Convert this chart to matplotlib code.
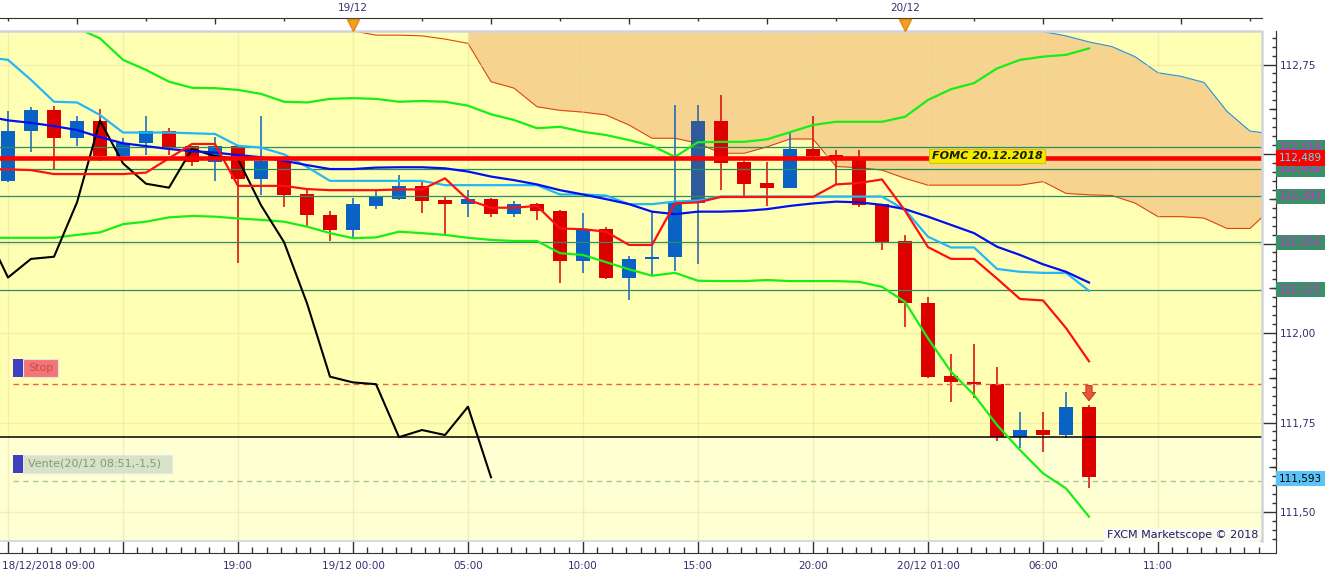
import matplotlib
matplotlib.use("Agg")
import matplotlib.pyplot as plt
import matplotlib.transforms as mtransforms
from matplotlib.patches import Rectangle
from matplotlib.ticker import FixedLocator, MultipleLocator, FuncFormatter, NullFormatter
import numpy as np

plt.rcParams['font.family'] = ['DejaVu Sans']

W, H = 1334, 579

# hourly candles, hour 0 = 18/12/2018 09:00
opens = [112.424, 112.563, 112.624, 112.544, 112.593, 112.494, 112.531, 112.565, 112.521, 112.478,
         112.523, 112.430, 112.480, 112.388, 112.331, 112.289, 112.356, 112.375, 112.412, 112.371,
         112.359, 112.375, 112.333, 112.359, 112.342, 112.200, 112.291, 112.155, 112.206, 112.211,
         112.362, 112.593, 112.477, 112.420, 112.406, 112.514, 112.498, 112.492, 112.359, 112.256,
         112.084, 111.880, 111.863, 111.857, 111.709, 111.729, 111.715, 111.794]
highs = [112.619, 112.631, 112.633, 112.605, 112.627, 112.545, 112.607, 112.573, 112.523, 112.547,
         112.525, 112.605, 112.484, 112.399, 112.342, 112.377, 112.400, 112.442, 112.424, 112.384,
         112.399, 112.377, 112.370, 112.363, 112.344, 112.335, 112.295, 112.216, 112.337, 112.638,
         112.638, 112.666, 112.480, 112.477, 112.561, 112.605, 112.510, 112.512, 112.361, 112.275,
         112.100, 111.941, 111.969, 111.906, 111.780, 111.780, 111.836, 111.799]
lows = [112.422, 112.505, 112.458, 112.521, 112.480, 112.492, 112.496, 112.498, 112.466, 112.424,
        112.195, 112.386, 112.351, 112.300, 112.258, 112.265, 112.345, 112.372, 112.335, 112.277,
        112.323, 112.323, 112.323, 112.317, 112.140, 112.169, 112.152, 112.093, 112.163, 112.172,
        112.193, 112.400, 112.377, 112.356, 112.404, 112.484, 112.416, 112.351, 112.233, 112.018,
        111.874, 111.808, 111.818, 111.699, 111.678, 111.669, 111.706, 111.566]
closes = [112.565, 112.624, 112.544, 112.593, 112.494, 112.531, 112.565, 112.519, 112.478, 112.523,
          112.430, 112.480, 112.386, 112.329, 112.289, 112.359, 112.379, 112.412, 112.368, 112.359,
          112.375, 112.333, 112.359, 112.340, 112.200, 112.289, 112.155, 112.207, 112.213, 112.365,
          112.593, 112.474, 112.417, 112.406, 112.514, 112.494, 112.486, 112.357, 112.254, 112.083,
          111.878, 111.862, 111.857, 111.709, 111.729, 111.715, 111.794, 111.597]
highlight_hour = 30

# indicator lines (first value at the hour given in *_start)
chikou_start = -1
chikou = [112.289, 112.155, 112.207, 112.213, 112.365, 112.593, 112.474, 112.417, 112.406, 112.514,
          112.494, 112.486, 112.357, 112.254, 112.083, 111.878, 111.862, 111.857, 111.709, 111.729,
          111.715, 111.794, 111.597]
tenkan_start = -1
tenkan = [112.458, 112.457, 112.455, 112.444, 112.444, 112.444, 112.444, 112.448, 112.488, 112.528,
          112.528, 112.411, 112.411, 112.411, 112.402, 112.399, 112.399, 112.399, 112.401, 112.401,
          112.432, 112.372, 112.350, 112.350, 112.355, 112.292, 112.290, 112.283, 112.246, 112.246,
          112.362, 112.365, 112.380, 112.380, 112.380, 112.380, 112.380, 112.415, 112.419, 112.429,
          112.342, 112.240, 112.207, 112.207, 112.152, 112.095, 112.091, 112.014, 111.921]
kijun_start = -1
kijun = [112.771, 112.763, 112.707, 112.646, 112.644, 112.609, 112.560, 112.560, 112.560, 112.558,
         112.556, 112.523, 112.518, 112.499, 112.464, 112.425, 112.425, 112.425, 112.425, 112.425,
         112.413, 112.413, 112.413, 112.413, 112.413, 112.387, 112.387, 112.384, 112.360, 112.360,
         112.367, 112.370, 112.381, 112.381, 112.381, 112.381, 112.381, 112.381, 112.381, 112.381,
         112.344, 112.269, 112.239, 112.239, 112.179, 112.171, 112.168, 112.168, 112.118]
ma_start = -1
ma_blue = [112.606, 112.594, 112.587, 112.578, 112.567, 112.547, 112.530, 112.522, 112.514, 112.508,
           112.504, 112.497, 112.491, 112.481, 112.469, 112.458, 112.458, 112.462, 112.463, 112.463,
           112.460, 112.451, 112.437, 112.427, 112.415, 112.399, 112.387, 112.374, 112.360, 112.339,
           112.332, 112.339, 112.339, 112.341, 112.346, 112.355, 112.362, 112.367, 112.365, 112.358,
           112.346, 112.325, 112.302, 112.279, 112.241, 112.218, 112.192, 112.171, 112.141]
bb_up_start = 0
bb_upper = [112.944, 112.916, 112.883, 112.852, 112.823, 112.763, 112.735, 112.702, 112.685, 112.684,
            112.679, 112.668, 112.646, 112.644, 112.654, 112.656, 112.654, 112.646, 112.648, 112.646,
            112.635, 112.611, 112.595, 112.572, 112.576, 112.562, 112.553, 112.539, 112.523, 112.492,
            112.533, 112.534, 112.534, 112.541, 112.561, 112.581, 112.590, 112.590, 112.590, 112.604,
            112.651, 112.681, 112.698, 112.739, 112.763, 112.772, 112.777, 112.795]
bb_low_start = -1
bb_lower = [112.266, 112.266, 112.266, 112.266, 112.274, 112.281, 112.304, 112.311, 112.323, 112.327,
            112.325, 112.320, 112.316, 112.311, 112.297, 112.279, 112.265, 112.267, 112.283, 112.279,
            112.274, 112.266, 112.260, 112.257, 112.257, 112.223, 112.218, 112.198, 112.178, 112.160,
            112.168, 112.146, 112.145, 112.145, 112.148, 112.145, 112.145, 112.145, 112.143, 112.129,
            112.087, 111.985, 111.892, 111.827, 111.743, 111.673, 111.608, 111.566, 111.487]
cloud_start = 15
span_a = [112.844, 112.832, 112.832, 112.830, 112.821, 112.809, 112.702, 112.684, 112.632, 112.622,
          112.617, 112.609, 112.581, 112.544, 112.544, 112.530, 112.502, 112.502, 112.520, 112.542,
          112.542, 112.465, 112.462, 112.455, 112.432, 112.413, 112.413, 112.413, 112.413, 112.413,
          112.423, 112.390, 112.386, 112.384, 112.363, 112.325, 112.325, 112.321, 112.292, 112.292,
          112.352]
span_b = [None, None, None, None, None, 112.950, 112.950, 112.950, 112.950, 112.950,
          112.950, 112.950, 112.950, 112.950, 112.950, 112.950, 112.950, 112.950, 112.950, 112.950,
          112.950, 112.950, 112.950, 112.950, 112.950, 112.950, 112.950, 112.950, 112.950, 112.870,
          112.842, 112.830, 112.813, 112.800, 112.772, 112.727, 112.717, 112.700, 112.619, 112.564,
          112.556]

# horizontal levels
level_lines = [112.519, 112.458, 112.382, 112.253, 112.121]
fomc_level = 112.489
support_level = 111.709
stop_level = 111.858
entry_level = 111.587
last_price = 111.593

y_major = [111.5, 111.75, 112.0, 112.25, 112.5, 112.75]
y_hidden = [112.25, 112.5]   # covered by the price tags in the original
x_ticks = list(range(0, 55, 5))
x_labels = ['18/12/2018 09:00', '', '19:00', '19/12 00:00', '05:00', '10:00',
            '15:00', '20:00', '20/12 01:00', '06:00', '11:00']
top_long = [3, 9, 21, 27, 33, 45, 51]
top_short = [0, 6, 12, 18, 24, 30, 36, 42, 48, 54]
day_marks = [15, 39]
day_labels = ['19/12', '20/12']


def fx(px):
    return px / W


def fy(py):
    return 1 - py / H


def xs(start, vals):
    return np.arange(start, start + len(vals))


def price_fmt(v, p):
    if any(abs(v - h) < 1e-6 for h in y_hidden):
        return ''
    return f'{v:.2f}'.replace('.', ',')


fig = plt.figure(figsize=(W / 100, H / 100), dpi=100)
fig.patch.set_facecolor('white')
ax = fig.add_axes([0, fy(541), fx(1262), (541 - 30.5) / H])
ax.set_facecolor('#FFFFB4')
y_lo, y_hi = 111.419, 112.845
x_lo, x_hi = -8 / 23, 1254 / 23

# lighter zone under the support line
ax.axhspan(y_lo - 1, support_level, color='#FFFFD4', zorder=0.2, lw=0)

# ichimoku cloud
ca = np.array(span_a, dtype=float)
cb = np.array([np.nan if v is None else v for v in span_b], dtype=float)
cx = xs(cloud_start, span_a)
with np.errstate(invalid='ignore'):
    ax.fill_between(cx, ca, cb, where=cb > ca, color='#F6D38F', lw=0, zorder=1)
ax.plot(cx, ca, color='#E0440E', lw=0.8, zorder=1.5)
ax.plot(cx, cb, color='#2090E0', lw=0.8, zorder=1.5)

# candles
o = np.array(opens)
c = np.array(closes)
hrs = np.arange(len(closes))
cols = ['#0A62C4' if c[i] >= o[i] else '#DD0000' for i in hrs]
cols[highlight_hour] = '#2F5B9C'
ax.vlines(hrs, lows, highs, colors=cols, lw=1.1, zorder=2.9)
ax.bar(hrs, np.maximum(np.abs(c - o), 0.003), bottom=np.minimum(o, c), width=0.6,
       color=cols, lw=0, zorder=3)

# levels
for lv in level_lines:
    ax.axhline(lv, color='#2E8B5E', lw=0.9, zorder=3.5)
ax.axhline(support_level, color='black', lw=1.1, zorder=4)
ax.axhline(stop_level, xmin=13 / 1262, color='#F05A5A', lw=1, ls=(0, (4, 3)), zorder=4)
ax.axhline(entry_level, xmin=13 / 1262, color='#A9C49A', lw=1, ls=(0, (4, 3)), zorder=4)

# indicators
ax.plot(xs(bb_up_start, bb_upper), bb_upper, color='#14F014', lw=1.6, zorder=4.2)
ax.plot(xs(bb_low_start, bb_lower), bb_lower, color='#14F014', lw=1.6, zorder=4.2)
ax.plot(xs(chikou_start, chikou), chikou, color='black', lw=1.5, zorder=4.3)
ax.plot(xs(kijun_start, kijun), kijun, color='#22B8F8', lw=1.6, zorder=4.4)
ax.plot(xs(ma_start, ma_blue), ma_blue, color='#0010EE', lw=1.6, zorder=4.5)
ax.plot(xs(tenkan_start, tenkan), tenkan, color='#FF1010', lw=1.6, zorder=4.6)

ax.axhline(fomc_level, color='#FF0000', lw=3.3, zorder=5)

# sell signal arrow on last candle
last = len(closes) - 1
ax.annotate('', xy=(last, highs[last]), xytext=(0, 14), textcoords='offset points',
            arrowprops=dict(arrowstyle='simple,head_width=0.95,head_length=0.6,tail_width=0.45',
                            fc='#E8563A', ec='#B83020', lw=0.6, shrinkA=0, shrinkB=3),
            zorder=7)

ax.set_xlim(x_lo, x_hi)
ax.set_ylim(y_lo, y_hi)

# grid
ax.grid(True, which='major', color='#E8E2A0', alpha=0.55, lw=1)
ax.set_axisbelow(False)

# axes frame
for s in ['left', 'top']:
    ax.spines[s].set_visible(False)
ax.spines['right'].set_position(('outward', 10.1))
ax.spines['bottom'].set_position(('outward', 8.6))
ax.spines['right'].set_color('#333333')
ax.spines['bottom'].set_color('#333333')
ax.spines['right'].set_bounds(111.385, y_hi)
ax.spines['bottom'].set_bounds(x_lo, 1268 / 23)

ax.yaxis.tick_right()
ax.yaxis.set_major_locator(FixedLocator(y_major))
ax.yaxis.set_minor_locator(MultipleLocator(0.025))
ax.yaxis.set_major_formatter(FuncFormatter(price_fmt))
ax.tick_params(axis='y', which='major', direction='in', length=10, width=1, color='#333333',
               labelsize=7.5, labelcolor='#303070', pad=3)
ax.tick_params(axis='y', which='minor', direction='in', length=3, width=1, color='#333333')

ax.xaxis.set_major_locator(FixedLocator(x_ticks))
ax.xaxis.set_minor_locator(MultipleLocator(0.625))
ax.set_xticklabels(x_labels)
ax.tick_params(axis='x', which='major', direction='in', length=8.6, width=1, color='#333333',
               labelsize=7.5, labelcolor='#303070', pad=6)
ax.tick_params(axis='x', which='minor', direction='in', length=4, width=1, color='#333333')
first = ax.get_xticklabels()[0]
first.set_horizontalalignment('left')
first.set_transform(first.get_transform() +
                    mtransforms.ScaledTranslation(-6 / 100, 0, fig.dpi_scale_trans))

# medium ticks on the price axis
sec = ax.secondary_yaxis('right')
sec.spines['right'].set_position(('outward', 10.1))
sec.spines['right'].set_color('#333333')
sec.set_yticks([111.625, 111.875, 112.125, 112.375, 112.625])
sec.yaxis.set_major_formatter(NullFormatter())
sec.tick_params(axis='y', direction='in', length=5, width=1, color='#333333')

# top date axis
secx = ax.secondary_xaxis('top')
secx.spines['top'].set_position(('outward', 9))
secx.spines['top'].set_color('#333333')
secx.set_xticks(top_long)
secx.set_xticks(top_short, minor=True)
secx.xaxis.set_major_formatter(NullFormatter())
secx.xaxis.set_minor_formatter(NullFormatter())
secx.tick_params(axis='x', which='major', direction='in', length=4.3, width=1, color='#333333')
secx.tick_params(axis='x', which='minor', direction='in', length=2.5, width=1, color='#333333')

top_tr = mtransforms.blended_transform_factory(ax.transData, fig.transFigure)
ax.plot(day_marks, [fy(24.5)] * len(day_marks), ls='none', marker='v', ms=8,
        color='#F5A020', mec='#E08A10', transform=top_tr, clip_on=False, zorder=8)
for d, lab in zip(day_marks, day_labels):
    ax.text(d, fy(8.5), lab, transform=top_tr, ha='center', va='center', fontsize=7.5,
            color='#303070', clip_on=False)

# plot border
ax.plot([0, 1, 1], [1, 1, 0], color='#D0D4DE', lw=1.8, transform=ax.transAxes,
        clip_on=False, zorder=6)
ax.plot([0, 1], [0, 0], color='#D0D4DE', lw=1.2, transform=ax.transAxes,
        clip_on=False, zorder=6)

# price tags on the right
tag_tr = mtransforms.blended_transform_factory(fig.transFigure, ax.transData)


def price_tag(level, fc, tc, z):
    ax.text(fx(1279), level, f'{level:.3f}'.replace('.', ','), transform=tag_tr,
            ha='left', va='center', fontsize=7.5, color=tc, zorder=z, clip_on=False,
            bbox=dict(boxstyle='square,pad=0.25', fc=fc, ec='none'))


for k, lv in enumerate(level_lines):
    price_tag(lv, '#3A9168', '#E020E0', 10 + k)
price_tag(fomc_level, '#FF0000', '#40F0FF', 20)
price_tag(last_price, '#5BC3F5', 'black', 20)

# FOMC label
fig.text(fx(987), fy(156), 'FOMC 20.12.2018', ha='center', va='center', fontsize=8,
         fontweight='bold', fontstyle='italic', color='#1A1A00',
         bbox=dict(boxstyle='square,pad=0.2', fc='#F2EA00', ec='#D0C800', lw=0.8))

# order labels
fig.patches.append(Rectangle((fx(23), fy(377)), 35 / W, 18 / H, transform=fig.transFigure,
                             fc='#F27676', ec='#E6E6E6', lw=0.8))
fig.patches.append(Rectangle((fx(13), fy(377)), 10 / W, 18 / H, transform=fig.transFigure,
                             fc='#3F3FC0', ec='none'))
fig.text(fx(28), fy(368), 'Stop', ha='left', va='center', fontsize=8, color='#CC4A4A')
fig.patches.append(Rectangle((fx(23), fy(473)), 149 / W, 18 / H, transform=fig.transFigure,
                             fc='#D6E2CA', ec='#E6E6E6', lw=0.8))
fig.patches.append(Rectangle((fx(13), fy(473)), 10 / W, 18 / H, transform=fig.transFigure,
                             fc='#3F3FC0', ec='none'))
fig.text(fx(28), fy(464), 'Vente(20/12 08:51,-1,5)', ha='left', va='center', fontsize=8,
         color='#8A9A6C')

# watermark
fig.text(fx(1258), fy(535), 'FXCM Marketscope \u00a9 2018', ha='right', va='center',
         fontsize=8, color='#1A2060',
         bbox=dict(boxstyle='square,pad=0.2', fc='#FAFAF2', ec='none'))

fig.savefig('out.png', dpi=100, facecolor='white')
